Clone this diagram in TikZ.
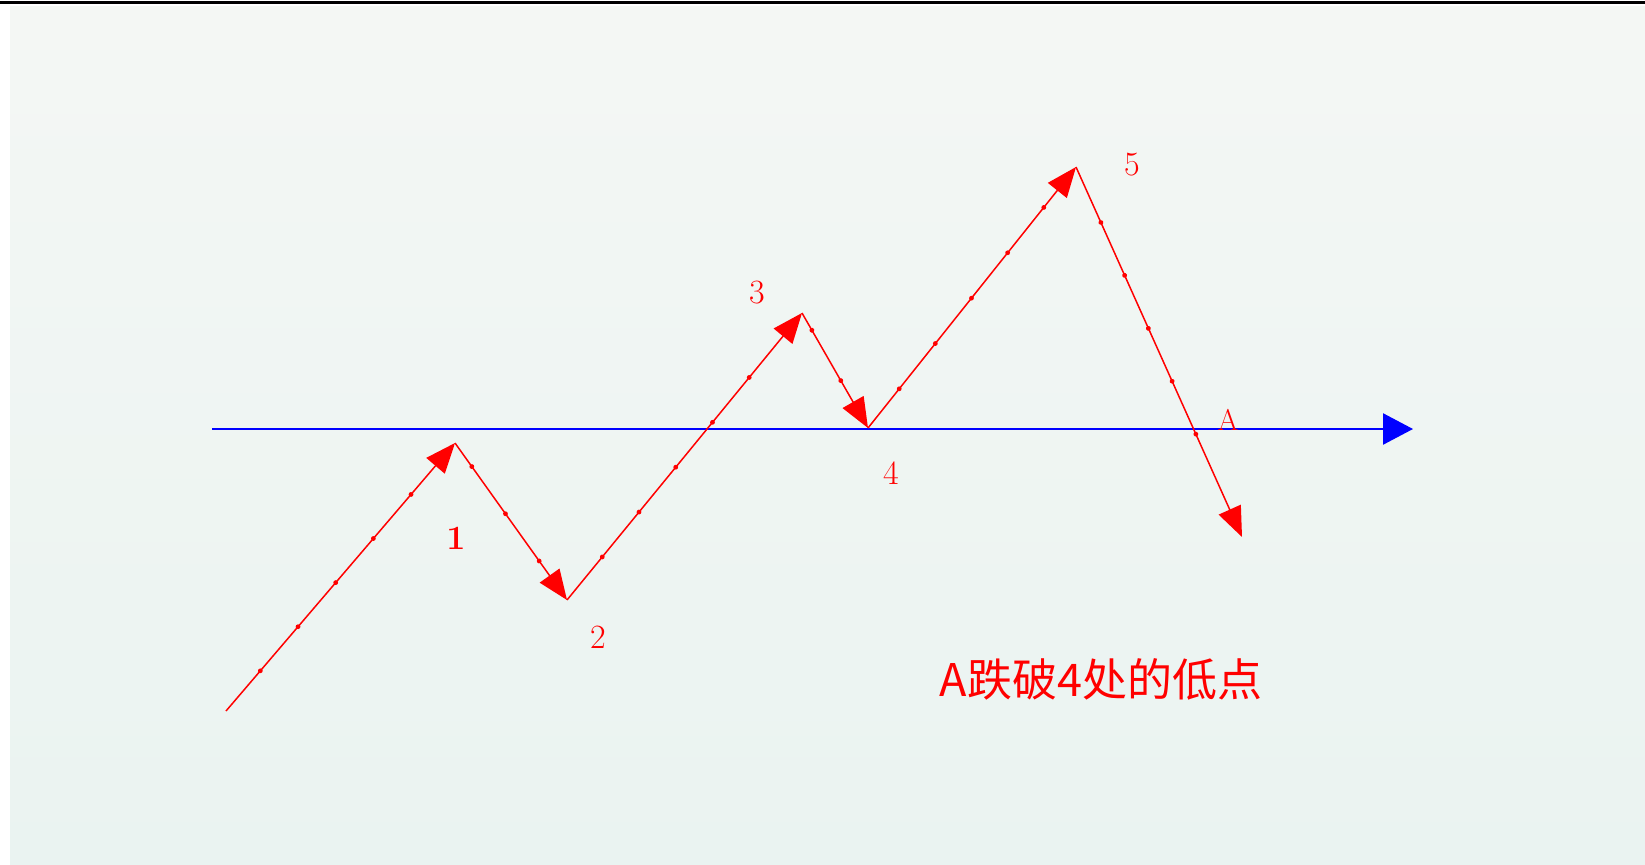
\documentclass[tikz,border=0pt]{standalone}
\usepackage{fontspec}
\newfontfamily\cjk{Noto Sans CJK SC}
\usetikzlibrary{arrows.meta,decorations.markings}
\definecolor{bgtop}{HTML}{F4F7F4}
\definecolor{bgbottom}{HTML}{EAF3F1}
\definecolor{wave}{HTML}{FF0000}
\definecolor{axisblue}{HTML}{0000FF}
\begin{document}
\begin{tikzpicture}[x=1pt,y=-1pt,
        every node/.style={
            text=wave,inner sep=0pt,
            font=\fontsize{34}{34}\selectfont
        },
        leg/.style={
            draw=wave,line width=1.5pt,-{Triangle[length=30pt,width=24pt]},
            postaction={decorate},
            decoration={markings,mark=between positions 0.15 and 0.85 step 58pt with {\fill[wave] (0,0) circle (2.4pt);}}
        }
    ]
% Frame
    \useasboundingbox (0,0) rectangle (1645,864);
    \fill[white] (0,0) rectangle (1645,864);
    \shade[top color=bgtop,bottom color=bgbottom] (10,7) rectangle (1645,864);
    \draw[line width=3pt] (0,2.5) -- (1645,2.5);
% Level line
    \coordinate (a0) at (212,429);
    \coordinate (a1) at (1413,429);
    \draw[axisblue,line width=2.5pt,-{Triangle[length=30pt,width=31pt]}] (a0) -- (a1);
% Waves
    \coordinate (p0) at (226,711);
    \coordinate (p1) at (455,443);
    \coordinate (p2) at (567,600);
    \coordinate (p3) at (802,313);
    \coordinate (p4) at (868,428);
    \coordinate (p5) at (1076,167);
    \coordinate (p6) at (1242,537);
\foreach\a/\b in {p0/p1,p1/p2,p2/p3,p3/p4,p4/p5,p5/p6}{
    \draw[leg] (\a) -- (\b);
}
% Labels
    \node[font=\bfseries\fontsize{34}{34}\selectfont] (l1) at (456,538) {1};
    \node (l2) at (598,637) {2};
    \node (l3) at (757,293) {3};
    \node (l4) at (891,473) {4};
    \node (l5) at (1132,165) {5};
    \node[font=\fontsize{30}{30}\selectfont] (la) at (1228,420) {A};
    \node[font=\cjk\fontsize{45}{45}\selectfont] (note) at (1101,679) {A跌破4处的低点};
\end{tikzpicture}
\end{document}
